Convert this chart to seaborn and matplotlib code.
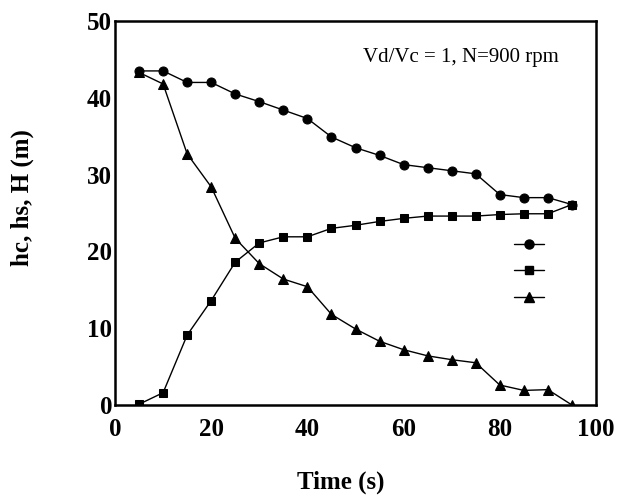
import matplotlib
matplotlib.use("Agg")
import matplotlib.pyplot as plt
import seaborn as sns
import pandas as pd
from matplotlib.lines import Line2D

time_s = [5, 10, 15, 20, 25, 30, 35, 40, 45, 50, 55, 60, 65, 70, 75, 80, 85, 90, 95]
hc = [43.5, 43.5, 42.0, 42.0, 40.5, 39.5, 38.4, 37.3, 34.9, 33.5, 32.5, 31.3, 30.9, 30.5, 30.1, 27.4, 27.0, 27.0, 26.1]
hs = [0.1, 1.6, 9.1, 13.6, 18.6, 21.1, 21.9, 21.9, 23.0, 23.4, 23.9, 24.3, 24.6, 24.6, 24.6, 24.8, 24.9, 24.9, 26.1]
H = [43.3, 41.8, 32.7, 28.4, 21.7, 18.4, 16.4, 15.4, 11.8, 9.9, 8.3, 7.2, 6.4, 5.9, 5.5, 2.6, 1.9, 2.0, 0.0]
x_ticks = [0, 20, 40, 60, 80, 100]
y_ticks = [0, 10, 20, 30, 40, 50]
annotation = "Vd/Vc = 1, N=900 rpm"

sns.set_theme(style="white")
plt.rcParams['font.family'] = ['Liberation Serif', 'DejaVu Serif']

fig = plt.figure(figsize=(6.28, 4.95), dpi=100)
ax = fig.add_axes([115 / 628, 1 - 405 / 495, (596 - 115) / 628, (405 - 21) / 495])

df = pd.DataFrame({"t": time_s, "hc": hc, "hs": hs, "H": H})
series = [("hc", "o", 6.5), ("hs", "s", 6), ("H", "^", 7)]
for col, mk, ms in series:
    sns.lineplot(data=df, x="t", y=col, ax=ax, color="black", linewidth=1.0,
                 marker=mk, markersize=ms, markeredgecolor="black",
                 markerfacecolor="black")

ax.set_xlim(0, 100)
ax.set_ylim(0, 50)
ax.set_xticks(x_ticks)
ax.set_yticks(y_ticks)
ax.tick_params(axis="both", length=0, labelsize=18, colors="black")
ax.tick_params(axis="x", pad=9)
ax.tick_params(axis="y", pad=2)
for lab in ax.get_xticklabels() + ax.get_yticklabels():
    lab.set_fontweight("bold")
for sp in ax.spines.values():
    sp.set_visible(True)
    sp.set_color("black")
    sp.set_linewidth(1.8)

ax.set_xlabel("Time (s)", fontsize=18, fontweight="bold", color="black")
ax.set_ylabel("hc, hs, H (m)", fontsize=18, fontweight="bold", color="black")
ax.xaxis.set_label_coords(0.47, -0.172)
ax.yaxis.set_label_coords(-0.168, 0.54)

ax.text(0.922, 0.905, annotation, transform=ax.transAxes, ha="right", va="center",
        fontsize=15, color="black")

handles = [Line2D([], [], color="black", linewidth=1.0, marker=mk, markersize=ms,
                  markerfacecolor="black", markeredgecolor="black")
           for _, mk, ms in series]
leg = ax.legend(handles, ["", "", ""], loc="upper left", bbox_to_anchor=(0.8, 0.47),
                frameon=False, handlelength=2.0, labelspacing=0.85, handletextpad=0.2)

fig.savefig("out.png", dpi=100)
